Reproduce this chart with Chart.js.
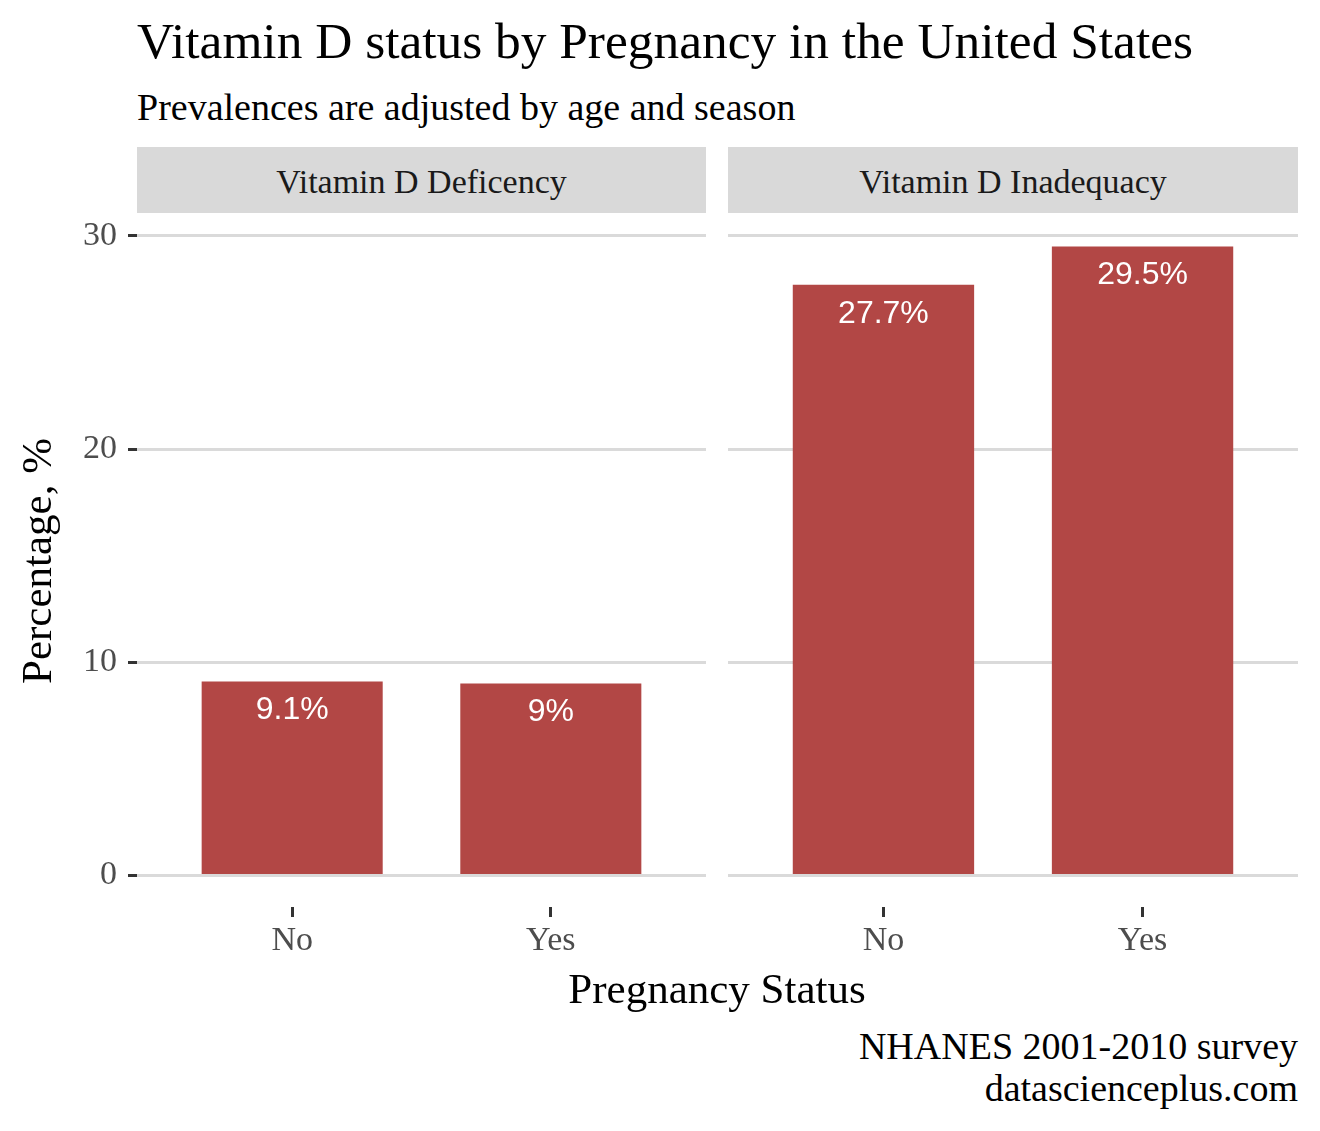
<!DOCTYPE html>
<html lang="en">
<head>
    <meta charset="UTF-8">
    <title>Vitamin D status by Pregnancy</title>
    <script src="https://cdn.jsdelivr.net/npm/chart.js@4.4.0/dist/chart.umd.min.js"></script>
    <style>
        body {
            margin: 0;
            background: #fff;
            font-family: "Liberation Serif", "Times New Roman", serif;
        }
        .page {
            position: relative;
            width: 1320px;
            height: 1131px;
            overflow: hidden;
        }
        .txt {
            position: absolute;
            white-space: nowrap;
            line-height: 1;
            color: #000;
        }
        .strip {
            position: absolute;
            top: 147px;
            height: 66px;
            background: #d9d9d9;
            color: #1a1a1a;
            font-size: 34px;
            line-height: 70px;
            text-align: center;
        }
        .panel {
            position: absolute;
            top: 183px;
            height: 784px;
        }
    </style>
</head>
<body>
<div class="page">
    <div class="txt" style="left:137px; top:15px; font-size:51.4px;">Vitamin D status by Pregnancy in the United States</div>
    <div class="txt" style="left:137px; top:88px; font-size:38px;">Prevalences are adjusted by age and season</div>

    <div class="strip" style="left:137px; width:569px;" id="strip0"></div>
    <div class="strip" style="left:728px; width:570px;" id="strip1"></div>

    <div class="panel" style="left:0; width:706px;"><canvas id="left"></canvas></div>
    <div class="panel" style="left:728px; width:570px;"><canvas id="right"></canvas></div>

    <div class="txt" style="left:0; width:1434px; text-align:center; top:967px; font-size:43px;">Pregnancy Status</div>
    <div class="txt" style="right:22px; top:1025px; font-size:38px; text-align:right; line-height:42px;">NHANES 2001-2010 survey<br>datascienceplus.com</div>
</div>

<script>
    // data
    const panels = ['Vitamin D Deficency', 'Vitamin D Inadequacy'];
    const pregnancy = ['No', 'Yes'];
    const deficiency = [9.1, 9.0];
    const inadequacy = [27.7, 29.5];
    const labelsDef = ['9.1%', '9%'];
    const labelsInad = ['27.7%', '29.5%'];
    const yTicks = [0, 10, 20, 30];

    document.getElementById('strip0').textContent = panels[0];
    document.getElementById('strip1').textContent = panels[1];

    const serif = '"Liberation Serif", "Times New Roman", serif';
    const barColor = '#b24745';

    const barLabels = {
        id: 'barLabels',
        afterDatasetsDraw(chart, args, opts) {
            const ctx = chart.ctx;
            const meta = chart.getDatasetMeta(0);
            ctx.save();
            ctx.fillStyle = '#ffffff';
            ctx.font = '32px "Liberation Sans", Arial, sans-serif';
            ctx.textAlign = 'center';
            ctx.textBaseline = 'middle';
            meta.data.forEach((bar, i) => {
                ctx.fillText(opts.texts[i], bar.x, bar.y + 29);
            });
            ctx.restore();
        }
    };

    function makePanel(id, values, texts, showY) {
        return new Chart(document.getElementById(id), {
            type: 'bar',
            data: {
                datasets: [{
                    data: values.map((v, i) => ({ x: i + 1, y: v })),
                    backgroundColor: barColor,
                    borderWidth: 0,
                    barPercentage: 0.7,
                    categoryPercentage: 1
                }]
            },
            options: {
                responsive: true,
                maintainAspectRatio: false,
                animation: false,
                layout: { padding: { top: 32, left: 0, right: 0, bottom: 0 } },
                plugins: {
                    legend: { display: false },
                    tooltip: { enabled: false },
                    barLabels: { texts: texts }
                },
                scales: {
                    x: {
                        type: 'linear',
                        min: 0.4,
                        max: 2.6,
                        offset: false,
                        afterBuildTicks: s => { s.ticks = pregnancy.map((p, i) => ({ value: i + 1 })); },
                        afterFit: s => { s.height = 60; },
                        border: { display: false },
                        grid: {
                            offset: false,
                            drawOnChartArea: false,
                            drawTicks: true,
                            tickLength: 10,
                            tickWidth: 3,
                            tickColor: '#333333'
                        },
                        ticks: {
                            callback: v => pregnancy[v - 1],
                            color: '#4d4d4d',
                            font: { family: serif, size: 34 },
                            padding: 4,
                            maxRotation: 0
                        }
                    },
                    y: {
                        min: -1.475,
                        max: 30.975,
                        afterBuildTicks: s => { s.ticks = yTicks.map(v => ({ value: v })); },
                        afterFit: s => { s.width = showY ? 137 : 0; },
                        border: { display: false },
                        grid: {
                            color: '#dadada',
                            lineWidth: 3,
                            drawTicks: showY,
                            tickLength: 9,
                            tickWidth: 3,
                            tickColor: '#333333'
                        },
                        ticks: {
                            display: showY,
                            color: '#4d4d4d',
                            font: { family: serif, size: 34 },
                            padding: 11
                        },
                        title: {
                            display: showY,
                            text: 'Percentage, %',
                            color: '#000',
                            font: { family: serif, size: 43 },
                            padding: { top: 14, bottom: 0 }
                        }
                    }
                }
            },
            plugins: [barLabels]
        });
    }

    makePanel('left', deficiency, labelsDef, true);
    makePanel('right', inadequacy, labelsInad, false);
</script>
</body>
</html>
